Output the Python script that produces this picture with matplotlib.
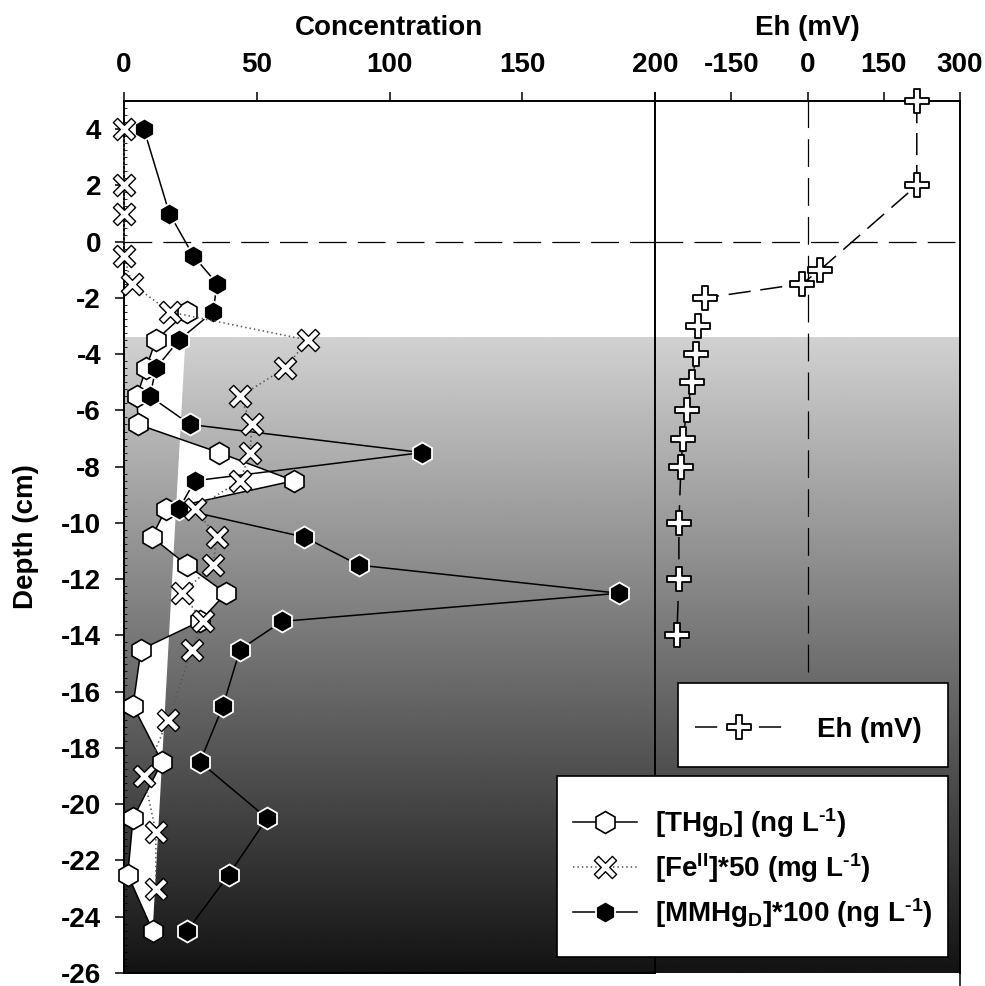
import numpy as np
import matplotlib
matplotlib.use('Agg')
import matplotlib.pyplot as plt
from matplotlib.path import Path
from matplotlib.patches import Rectangle
from matplotlib.ticker import MultipleLocator

plt.rcParams['font.family'] = ['Liberation Sans', 'DejaVu Sans']
plt.rcParams['font.weight'] = 'bold'
plt.rcParams['axes.unicode_minus'] = False
plt.rcParams['mathtext.fontset'] = 'custom'
plt.rcParams['mathtext.rm'] = 'Liberation Sans:bold'
plt.rcParams['mathtext.it'] = 'Liberation Sans:bold'
plt.rcParams['mathtext.bf'] = 'Liberation Sans:bold'
plt.rcParams['lines.scale_dashes'] = False

# ---------------- data ----------------
thg_depth = [-2.5, -3.5, -4.5, -5.5, -6.5, -7.5, -8.5, -9.5, -10.5, -11.5, -12.5, -13.5,
             -14.5, -16.5, -18.5, -20.5, -22.5, -24.5]
thg = [23.7, 12, 8.3, 4.9, 5.3, 35.8, 64, 15.8, 10.5, 23.7, 38.4, 28.6,
       6.4, 3.4, 14.3, 3.4, 1.4, 10.8]

fe_depth = [4, 2, 1, -0.5, -1.5, -2.5, -3.5, -4.5, -5.5, -6.5, -7.5, -8.5, -9.5, -10.5,
            -11.5, -12.5, -13.5, -14.5, -17, -19, -21, -23]
fe = [0, 0, 0, 0, 2.9, 17.3, 69.3, 60.6, 43.7, 48.2, 47.5, 43.7, 26.7, 35,
      33.5, 21.8, 29.8, 25.6, 16.6, 7.5, 12, 12]

mmhg_depth = [4, 1, -0.5, -1.5, -2.5, -3.5, -4.5, -5.5, -6.5, -7.5, -8.5, -9.5, -10.5,
              -11.5, -12.5, -13.5, -14.5, -16.5, -18.5, -20.5, -22.5, -24.5]
mmhg = [7.5, 17.1, 26.1, 35.1, 33.5, 20.7, 12, 9.8, 24.9, 112.2, 26.7, 20.7, 67.8,
        88.5, 186.4, 59.5, 43.7, 37.3, 28.6, 53.9, 39.5, 23.8]

eh_depth = [5, 2, -1, -1.5, -2, -3, -4, -5, -6, -7, -8, -10, -12, -14]
eh = [215, 215, 25, -11, -202, -215, -219, -227, -237, -245, -249, -253, -253, -257]

conc_ticks = [0, 50, 100, 150, 200]
eh_ticks = [-300, -150, 0, 150, 300]
eh_ticklabels = ['', '-150', '0', '150', '300']
depth_ticks = list(range(-26, 5, 2))

labels = [r'[THg$_{\mathrm{D}}$] (ng L$^{\text{-1}}$)',
          r'[Fe$^{\mathrm{II}}$]*50 (mg L$^{\text{-1}}$)',
          r'[MMHg$_{\mathrm{D}}$]*100 (ng L$^{\text{-1}}$)']

sediment_top = -3.4     # start of the shaded sediment zone
eh_zero_bottom = -15.3  # end of the Eh = 0 reference line

# ---------------- figure ----------------
W, H = 985, 986
fig = plt.figure(figsize=(W / 100, H / 100), dpi=100)
ax1 = fig.add_axes([124 / W, 13 / H, 531 / W, 872 / H])
ax2 = fig.add_axes([655 / W, 13 / H, 305 / W, 872 / H], sharey=ax1)

ax1.set_xlim(0, 200)
ax2.set_xlim(-300, 300)
ax1.set_ylim(-26, 5)

# gradient background
grad = np.linspace(0.075, 0.82, 256).reshape(-1, 1)
for ax in (ax1, ax2):
    x0, x1 = ax.get_xlim()
    ax.imshow(grad, extent=[x0, x1, -26, sediment_top], origin='lower', cmap='gray',
              vmin=0, vmax=1, aspect='auto', zorder=0.5, interpolation='bilinear')
ax1.set_xlim(0, 200)
ax2.set_xlim(-300, 300)
ax1.set_ylim(-26, 5)

# white polygon of THg
ax1.fill(thg, thg_depth, color='white', lw=0, zorder=1)

# reference lines
for ax in (ax1, ax2):
    ax.axhline(0, color='k', lw=0.9, dashes=(20, 8), zorder=2)
ax2.vlines(0, eh_zero_bottom, 5, color='k', lw=0.9, linestyles=[(0, (20, 8))], zorder=2)

# X marker (thin arms)
k = 0.62
xverts = [(-k, -1), (0, -(1 - k)), (k, -1), (1, -k), (1 - k, 0), (1, k), (k, 1),
          (0, 1 - k), (-k, 1), (-1, k), (-(1 - k), 0), (-1, -k), (-k, -1)]
xmarker = Path(xverts, [Path.MOVETO] + [Path.LINETO] * 11 + [Path.CLOSEPOLY])
# plus marker (thin arms)
t = 0.28
pverts = [(-t, -1), (t, -1), (t, -t), (1, -t), (1, t), (t, t), (t, 1), (-t, 1),
          (-t, t), (-1, t), (-1, -t), (-t, -t), (-t, -1)]
pmarker = Path(pverts, [Path.MOVETO] + [Path.LINETO] * 11 + [Path.CLOSEPOLY])

l_thg, = ax1.plot(thg, thg_depth, '-', color='k', lw=1.1, marker='h', ms=15.8,
                  mfc='white', mec='k', mew=1.2, zorder=3, clip_on=False)
l_mm, = ax1.plot(mmhg, mmhg_depth, '-', color='k', lw=1.1, marker='h', ms=15.8,
                 mfc='k', mec='white', mew=1.3, zorder=4, clip_on=False)
l_fe, = ax1.plot(fe, fe_depth, color='0.35', lw=1.2, linestyle=(0, (1, 2.2)),
                 marker=xmarker, ms=16, mfc='white', mec='k', mew=1.0, zorder=5,
                 clip_on=False)
l_eh, = ax2.plot(eh, eh_depth, color='k', lw=1.1, dashes=(16, 7), marker=pmarker, ms=17,
                 mfc='white', mec='k', mew=1.3, zorder=5, clip_on=False)

# axes styling
for ax in (ax1, ax2):
    ax.xaxis.tick_top()
    ax.xaxis.set_label_position('top')
    ax.tick_params(axis='x', direction='out', length=6.5, width=1.1, pad=10, labelsize=20)
    for s in ax.spines.values():
        s.set_linewidth(1.4)
ax1.set_xticks(conc_ticks)
ax2.set_xticks(eh_ticks)
ax2.set_xticklabels(eh_ticklabels)

ax1.set_yticks(depth_ticks)
ax1.yaxis.set_minor_locator(MultipleLocator(0.25))
ax1.tick_params(axis='y', which='major', direction='out', length=6.5, width=1.1, pad=10,
                labelsize=20)
ax1.tick_params(axis='y', which='minor', direction='in', length=2, width=0.6)
ax2.tick_params(axis='y', which='both', left=False, right=False, labelleft=False)
ax2.spines['bottom'].set_visible(False)

sec = ax2.secondary_xaxis('bottom')
sec.set_xticks([300])
sec.tick_params(length=10, width=1.1, labelbottom=False)
sec.spines['bottom'].set_visible(False)

ax1.set_xlabel('Concentration', fontsize=20, fontweight='bold', labelpad=12)
ax2.set_xlabel('Eh (mV)', fontsize=20, fontweight='bold', labelpad=12)
ax1.set_ylabel('Depth (cm)', fontsize=20, fontweight='bold', labelpad=16)

# legend boxes
fig.add_artist(Rectangle((557 / W, 1 - 957 / H), (948 - 557) / W, (957 - 776) / H,
                         transform=fig.transFigure, fc='white', ec='k', lw=1.2, zorder=4))
fig.add_artist(Rectangle((678 / W, 1 - 767 / H), (948 - 678) / W, (767 - 683) / H,
                         transform=fig.transFigure, fc='white', ec='k', lw=1.2, zorder=4))

leg1 = fig.legend([l_thg, l_fe, l_mm], labels, loc='center left',
                  bbox_to_anchor=(573 / W, 1 - 868 / H), frameon=False, fontsize=20,
                  handlelength=2.3, handletextpad=0.65, labelspacing=0.4,
                  borderpad=0, borderaxespad=0)
leg2 = fig.legend([l_eh], ['Eh (mV)'], loc='center left',
                  bbox_to_anchor=(695 / W, 1 - 730 / H), frameon=False, fontsize=20,
                  handlelength=3.17, handletextpad=1.22, borderpad=0, borderaxespad=0)
for lg in (leg1, leg2):
    lg.set_zorder(6)

fig.savefig('out.png', dpi=100)
